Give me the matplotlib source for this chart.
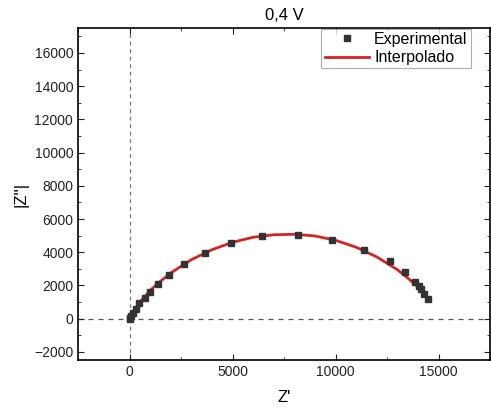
import matplotlib
matplotlib.use('Agg')
import matplotlib.pyplot as plt
from matplotlib.ticker import MultipleLocator, AutoMinorLocator

plt.rcParams['font.family'] = ['Liberation Sans', 'DejaVu Sans']

TITLE = '0,4 V'
XLABEL = "Z'"
YLABEL = "|Z''|"

# experimental points (Z', |Z''|)
exp_x = [0, 20, 90, 190, 300, 450, 726, 1002, 1370, 1902, 2628, 3645, 4937,
         6452, 8194, 9840, 11389, 12632, 13373, 13842, 14050, 14167, 14300, 14505]
exp_y = [0, 30, 170, 360, 600, 937, 1272, 1630, 2072, 2627, 3284, 3958, 4555,
         4955, 5045, 4734, 4119, 3463, 2806, 2227, 1980, 1773, 1500, 1212]

# fitted curve
fit_x = [0, 200, 500, 1000, 1500, 2000, 3000, 4000, 5000, 6000, 7000, 8000,
         9000, 10000, 11000, 12000, 13000, 13500, 14000, 14550]
fit_y = [0, 450, 1000, 1700, 2250, 2750, 3550, 4150, 4600, 4900, 5050, 5080,
         4980, 4720, 4300, 3720, 2950, 2450, 1900, 1150]

fig = plt.figure(figsize=(4.91, 4.13), dpi=100)
ax = fig.add_axes([0.159, 0.128, 0.839, 0.804])

ax.axhline(0, color='#555555', lw=0.9, ls=(0, (4, 4)), zorder=1)
ax.axvline(0, color='#777777', lw=0.9, ls=(0, (3, 3)), zorder=1)

ax.plot(exp_x, exp_y, 's', color='#333333', ms=3.8, label='Experimental', zorder=3)
ax.plot(fit_x, fit_y, '-', color='#d42424', lw=2, label='Interpolado', zorder=2)

ax.set_xlim(-2500, 17500)
ax.set_ylim(-2500, 17500)
ax.xaxis.set_major_locator(MultipleLocator(5000))
ax.yaxis.set_major_locator(MultipleLocator(2000))
ax.xaxis.set_minor_locator(AutoMinorLocator(2))
ax.yaxis.set_minor_locator(AutoMinorLocator(2))
ax.tick_params(which='both', direction='in', top=True, right=True, labelsize=10, colors='#222222')
ax.tick_params(which='major', length=4)
ax.tick_params(which='minor', length=2.5)
for s in ax.spines.values():
    s.set_linewidth(1.2)

ax.set_title(TITLE, fontsize=12, pad=6)
ax.set_xlabel(XLABEL, fontsize=12, labelpad=8)
ax.set_ylabel(YLABEL, fontsize=12)

leg = ax.legend(loc='upper right', bbox_to_anchor=(0.955, 1.0), fontsize=11.5,
                frameon=True, fancybox=False, edgecolor='#999999',
                handlelength=2.8, borderpad=0.2, labelspacing=0.2,
                handletextpad=0.3, borderaxespad=0.05)
leg.get_frame().set_linewidth(0.8)

plt.savefig('out.png', dpi=100)
